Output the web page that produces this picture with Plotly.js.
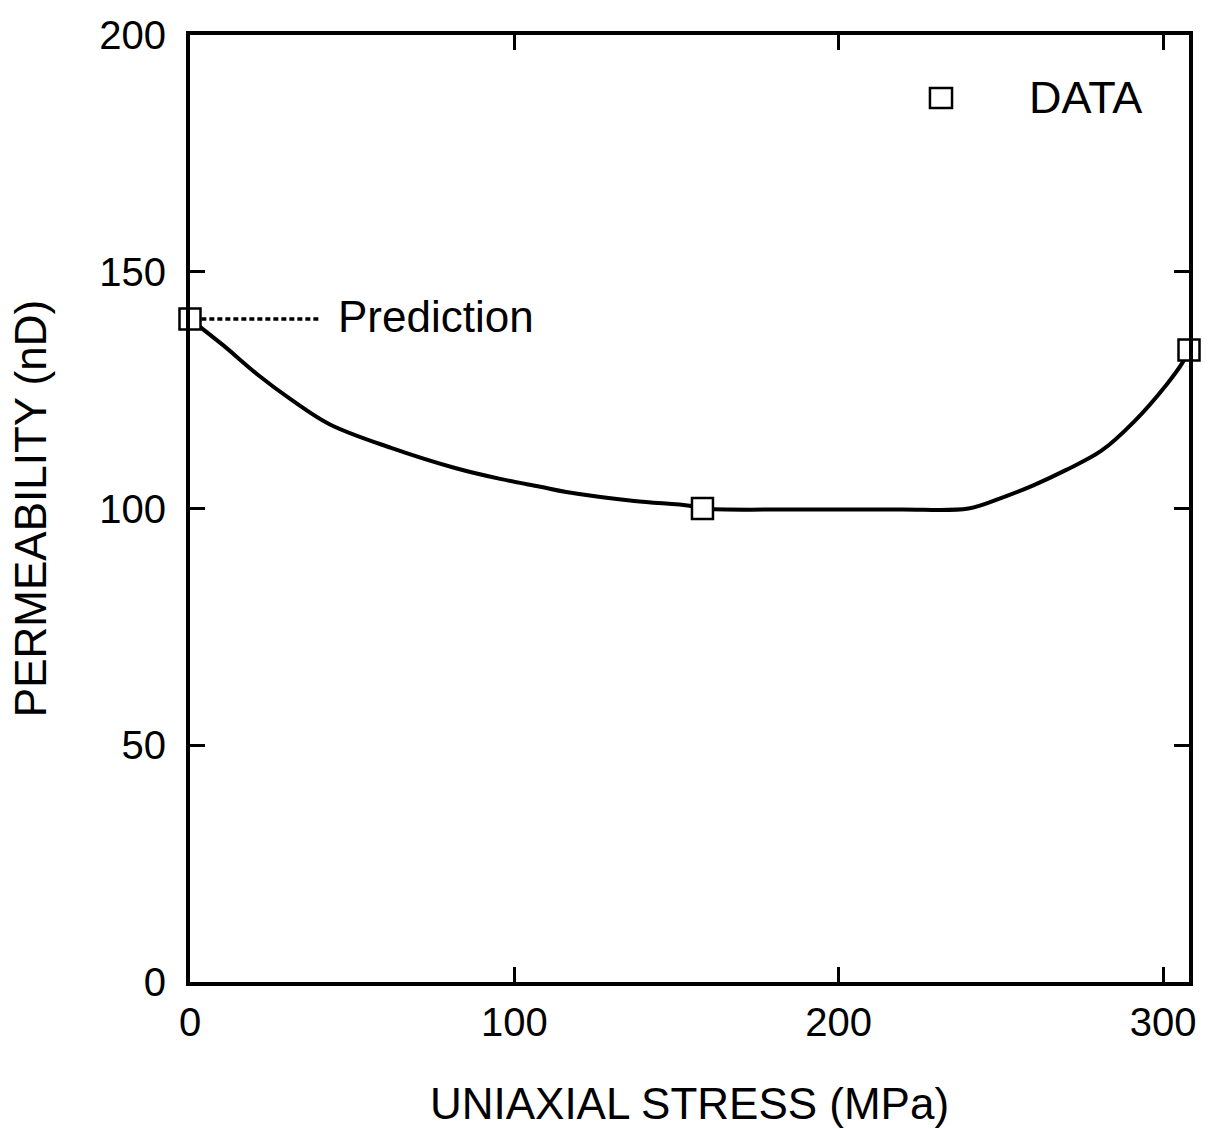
<!DOCTYPE html>
<html>
<head>
<meta charset="utf-8">
<script src="https://cdn.plot.ly/plotly-3.0.1.min.js"></script>
<style>html,body{margin:0;padding:0;background:#fff;}#chart{width:1224px;height:1129px;}</style>
</head>
<body>
<div id="chart"></div>
<script>
// Measured data
const stress = [0, 158, 308];
const permeability = [140, 100, 133.5];
// Fitted curve
const curveStress = [0, 10, 21, 31, 43, 62, 82, 96, 108, 116, 137, 154, 158, 190, 219, 240, 250, 260, 270, 281, 291, 301, 306, 308];
const curvePerm   = [140, 134.6, 128.2, 123.1, 117.8, 112.8, 108.5, 106.2, 104.6, 103.5, 101.6, 100.6, 100, 99.8, 99.8, 100, 102.2, 104.9, 108.1, 112.2, 118.3, 126.1, 130.8, 133.5];
const xTicks = [0, 100, 200, 300];
const yTicks = [0, 50, 100, 150, 200];
const predictionLabel = "Prediction";
const legendLabel = "DATA";

const FONT = "Liberation Sans, Arial, Helvetica, sans-serif";

const traces = [
  {
    x: curveStress, y: curvePerm, mode: 'lines', type: 'scatter',
    line: {color: '#000', width: 4, shape: 'spline', smoothing: 1},
    hoverinfo: 'skip', showlegend: false, cliponaxis: false
  },
  {
    x: stress, y: permeability, mode: 'markers', type: 'scatter',
    marker: {symbol: 'square', size: 21, color: '#fff', line: {color: '#000', width: 2.5}},
    showlegend: false, cliponaxis: false
  }
];

const layout = {
  width: 1224, height: 1129,
  margin: {l: 190, r: 35, t: 35, b: 147},
  paper_bgcolor: '#fff', plot_bgcolor: '#fff',
  font: {family: FONT, color: '#000', size: 40},
  showlegend: false,
  xaxis: {
    range: [0, 308], tickvals: xTicks, ticktext: xTicks.map(String),
    showgrid: false, zeroline: false,
    showline: true, linecolor: '#000', linewidth: 4, mirror: 'ticks',
    ticks: 'inside', ticklen: 15, tickwidth: 3, tickcolor: '#000',
    tickfont: {family: FONT, size: 40}, ticklabelstandoff: 2,
    title: {text: 'UNIAXIAL STRESS (MPa)', font: {family: FONT, size: 44}, standoff: 46}
  },
  yaxis: {
    range: [0, 200], tickvals: yTicks, ticktext: yTicks.map(String),
    showgrid: false, zeroline: false,
    showline: true, linecolor: '#000', linewidth: 4, mirror: 'ticks',
    ticks: 'inside', ticklen: 15, tickwidth: 3, tickcolor: '#000',
    tickfont: {family: FONT, size: 40}, ticklabelstandoff: 12,
    title: {text: 'PERMEABILITY (nD)', font: {family: FONT, size: 44}, standoff: 40}
  },
  shapes: [
    {type: 'line', xref: 'x', yref: 'y', x0: 3.5, x1: 40.5, y0: permeability[0], y1: permeability[0],
     line: {color: '#000', width: 3.5, dash: '5px,3px'}},
    {type: 'rect', xref: 'paper', yref: 'paper', x0: 0.7407, x1: 0.7628, y0: 0.923, y1: 0.944,
     line: {color: '#000', width: 2.5}, fillcolor: '#fff'}
  ],
  annotations: [
    {xref: 'x', yref: 'y', x: 45, y: 140.6, text: predictionLabel, showarrow: false,
     xanchor: 'left', yanchor: 'middle', font: {family: FONT, size: 44}},
    {xref: 'paper', yref: 'paper', x: 0.838, y: 0.9335, text: legendLabel, showarrow: false,
     xanchor: 'left', yanchor: 'middle', font: {family: FONT, size: 45}}
  ]
};

Plotly.newPlot('chart', traces, layout, {displayModeBar: false, staticPlot: true});
</script>
</body>
</html>
